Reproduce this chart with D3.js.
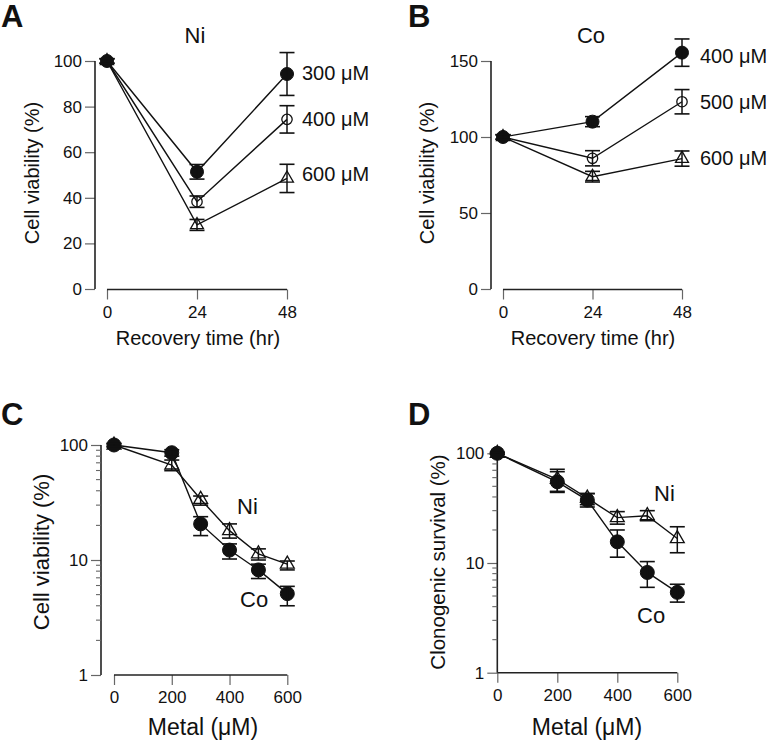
<!DOCTYPE html>
<html>
<head>
<meta charset="utf-8">
<script src="https://cdn.jsdelivr.net/npm/d3@7/dist/d3.min.js"></script>
<style>
  html, body { margin: 0; padding: 0; background: #fff; }
  svg { display: block; }
  text { font-family: "Liberation Sans", Arial, Helvetica, sans-serif; fill: #111; }
</style>
</head>
<body>
<svg id="chart" width="769" height="742"></svg>
<script>
// ---------------- DATA ----------------
// Panel A: Ni, recovery time
const timeHours = [0, 24, 48];
const timeTicks = [0, 24, 48];
const aYTicks = [0, 20, 40, 60, 80, 100];
const aNi300 = [100, 51.4, 94.3];
const aNi300Err = [1, 3.2, 9.4];
const aNi400 = [100, 38.3, 74.4];
const aNi400Err = [1, 2.5, 6.0];
const aNi600 = [100, 28.1, 48.5];
const aNi600Err = [1, 2.4, 6.2];
const aLabels = ["300 \u03bcM", "400 \u03bcM", "600 \u03bcM"];

// Panel B: Co, recovery time
const bYTicks = [0, 50, 100, 150];
const bCo400 = [100, 110.1, 155.5];
const bCo400Err = [1.5, 3.3, 9.0];
const bCo500 = [100, 86.0, 123.2];
const bCo500Err = [1.5, 5.0, 8.0];
const bCo600 = [100, 73.9, 85.8];
const bCo600Err = [1.5, 3.5, 5.0];
const bLabels = ["400 \u03bcM", "500 \u03bcM", "600 \u03bcM"];

// Panel C: cell viability vs metal dose
const doses = [0, 200, 300, 400, 500, 600];
const doseTicks = [0, 200, 400, 600];
const logTicks = [1, 10, 100];
const cCo = [100, 85.7, 20.6, 12.2, 8.2, 5.1];
const cCoLo = [97, 80, 16.3, 10.2, 6.9, 4.0];
const cCoHi = [103, 91, 23.8, 13.8, 9.2, 5.9];
const cNi = [100, 67, 33.7, 18.0, 11.3, 9.2];
const cNiLo = [96, 59.8, 30, 15.5, 10.0, 8.2];
const cNiHi = [103, 74, 36, 20.6, 12.5, 9.8];

// Panel D: clonogenic survival vs metal dose
const dCo = [100, 55, 37.5, 15.6, 8.2, 5.4];
const dCoLo = [98, 44, 32.4, 11.3, 6.0, 4.4];
const dCoHi = [102, 68, 42.9, 20, 10.3, 6.4];
const dNi = [100, 58, 39, 25.9, 27, 16.7];
const dNiLo = [98, 45, 34, 22.6, 24.3, 12.4];
const dNiHi = [102, 71.5, 43, 29.4, 30, 21.4];

// ---------------- DRAWING ----------------
const svg = d3.select("#chart");
const INK = "#111";

function marker(g, type, x, y, r) {
  if (type === "filled") {
    g.append("circle").attr("cx", x).attr("cy", y).attr("r", r)
      .attr("fill", INK).attr("stroke", INK).attr("stroke-width", 1);
  } else if (type === "open") {
    g.append("circle").attr("cx", x).attr("cy", y).attr("r", r - 0.8)
      .attr("fill", "none").attr("stroke", INK).attr("stroke-width", 1.3);
  } else {
    const sym = d3.symbol().type(d3.symbolTriangle).size(r * r * 1.7);
    g.append("path").attr("d", sym()).attr("transform", `translate(${x},${y})`)
      .attr("fill", "none").attr("stroke", INK).attr("stroke-width", 1.3);
  }
}

function errbar(g, x, y1, y2, cap) {
  g.append("line").attr("x1", x).attr("x2", x).attr("y1", y1).attr("y2", y2)
    .attr("stroke", INK).attr("stroke-width", 1.5);
  [y1, y2].forEach(yy => g.append("line").attr("x1", x - cap).attr("x2", x + cap)
    .attr("y1", yy).attr("y2", yy).attr("stroke", INK).attr("stroke-width", 1.6));
}

function drawSeries(g, xs, ys, lo, hi, x, y, type, r) {
  const line = d3.line().x((d, i) => x(xs[i])).y(d => y(d));
  g.append("path").datum(ys).attr("d", line).attr("fill", "none")
    .attr("stroke", INK).attr("stroke-width", 1.4);
  ys.forEach((v, i) => marker(g, type, x(xs[i]), y(v), r));
  ys.forEach((v, i) => errbar(g, x(xs[i]), y(hi[i]), y(lo[i]), 7.5));
}

function axes(g, x, y, opts) {
  // y axis
  const yAxis = (opts.log ? d3.axisLeft(y).tickValues(opts.yTicks).tickFormat(d3.format("d"))
                          : d3.axisLeft(y).tickValues(opts.yTicks))
      .tickSize(10).tickPadding(3);
  const ya = g.append("g").attr("transform", `translate(${opts.yAxisX},0)`).call(yAxis);
  ya.select(".domain").remove();
  ya.append("line").attr("x1", 0).attr("x2", 0).attr("y1", y.range()[1]).attr("y2", y.range()[0])
    .attr("stroke", "#222").attr("stroke-width", 1.6);
  ya.selectAll(".tick line").attr("stroke", "#666").attr("stroke-width", 1.2);
  ya.selectAll(".tick text").attr("font-size", 17).attr("fill", INK)
    .attr("font-family", "Liberation Sans, Arial, sans-serif");
  if (opts.log) {
    const minor = [];
    for (let dec = 1; dec < 100; dec *= 10) for (let k = 2; k <= 9; k++) minor.push(dec * k);
    ya.selectAll(".minor").data(minor).join("line").attr("class", "minor")
      .attr("x1", -5).attr("x2", 0).attr("y1", d => y(d)).attr("y2", d => y(d))
      .attr("stroke", "#666").attr("stroke-width", 1.1);
  }
  // x axis
  const xAxis = d3.axisBottom(x).tickValues(opts.xTicks).tickSize(10).tickPadding(6);
  const xa = g.append("g").attr("transform", `translate(0,${opts.xAxisY})`).call(xAxis);
  xa.select(".domain").remove();
  xa.append("line").attr("x1", x.range()[0]).attr("x2", x.range()[1]).attr("y1", 0).attr("y2", 0)
    .attr("stroke", "#222").attr("stroke-width", 1.6);
  xa.selectAll(".tick line").attr("stroke", "#666").attr("stroke-width", 1.2);
  xa.selectAll(".tick text").attr("font-size", 17).attr("fill", INK)
    .attr("font-family", "Liberation Sans, Arial, sans-serif");
}

function label(txt, x, y, size, opts = {}) {
  const t = svg.append("text").attr("x", x).attr("y", y).attr("font-size", size).text(txt);
  if (opts.anchor) t.attr("text-anchor", opts.anchor);
  if (opts.bold) t.attr("font-weight", "bold");
  return t;
}
function vlabel(txt, cx, cy, size) {
  svg.append("text").attr("transform", `translate(${cx},${cy}) rotate(-90)`)
    .attr("text-anchor", "middle").attr("dominant-baseline", "central")
    .attr("font-size", size).text(txt);
}

// ---- Panel A ----
{
  const g = svg.append("g");
  const x = d3.scaleLinear().domain([0, 48]).range([107, 287]);
  const y = d3.scaleLinear().domain([0, 100]).range([289, 61]);
  axes(g, x, y, { yTicks: aYTicks, xTicks: timeTicks, yAxisX: 95, xAxisY: 289.5 });
  drawSeries(g, timeHours, aNi600, aNi600.map((v, i) => v - aNi600Err[i]), aNi600.map((v, i) => v + aNi600Err[i]), x, y, "tri", 6.5);
  drawSeries(g, timeHours, aNi400, aNi400.map((v, i) => v - aNi400Err[i]), aNi400.map((v, i) => v + aNi400Err[i]), x, y, "open", 6);
  drawSeries(g, timeHours, aNi300, aNi300.map((v, i) => v - aNi300Err[i]), aNi300.map((v, i) => v + aNi300Err[i]), x, y, "filled", 6.5);
  label("A", 1, 27, 31, { bold: true });
  label("Ni", 195, 43, 22, { anchor: "middle" });
  label(aLabels[0], 302, 80, 20);
  label(aLabels[1], 302, 126, 20);
  label(aLabels[2], 302, 181, 20);
  vlabel("Cell viability (%)", 32, 173, 20);
  label("Recovery time (hr)", 198, 345, 20, { anchor: "middle" });
}

// ---- Panel B ----
{
  const g = svg.append("g");
  const x = d3.scaleLinear().domain([0, 48]).range([503, 682]);
  const y = d3.scaleLinear().domain([0, 150]).range([289, 61]);
  axes(g, x, y, { yTicks: bYTicks, xTicks: timeTicks, yAxisX: 491, xAxisY: 289.5 });
  drawSeries(g, timeHours, bCo600, bCo600.map((v, i) => v - bCo600Err[i]), bCo600.map((v, i) => v + bCo600Err[i]), x, y, "tri", 6.5);
  drawSeries(g, timeHours, bCo500, bCo500.map((v, i) => v - bCo500Err[i]), bCo500.map((v, i) => v + bCo500Err[i]), x, y, "open", 6);
  drawSeries(g, timeHours, bCo400, bCo400.map((v, i) => v - bCo400Err[i]), bCo400.map((v, i) => v + bCo400Err[i]), x, y, "filled", 6.5);
  label("B", 408, 27, 31, { bold: true });
  label("Co", 591, 43, 22, { anchor: "middle" });
  label(bLabels[0], 700, 63, 20);
  label(bLabels[1], 700, 109, 20);
  label(bLabels[2], 700, 165, 20);
  vlabel("Cell viability (%)", 427, 173, 20);
  label("Recovery time (hr)", 593, 345, 20, { anchor: "middle" });
}

// ---- Panel C ----
{
  const g = svg.append("g");
  const x = d3.scaleLinear().domain([0, 600]).range([114, 287.3]);
  const y = d3.scaleLog().domain([1, 100]).range([675, 445]);
  axes(g, x, y, { yTicks: logTicks, xTicks: doseTicks, yAxisX: 101, xAxisY: 675, log: true });
  drawSeries(g, doses, cNi, cNiLo, cNiHi, x, y, "tri", 7);
  drawSeries(g, doses, cCo, cCoLo, cCoHi, x, y, "filled", 7);
  label("C", 1, 425, 31, { bold: true });
  label("Ni", 237, 514, 22);
  label("Co", 240, 607, 22);
  vlabel("Cell viability (%)", 41, 552, 22);
  label("Metal (\u03bcM)", 203, 735, 23, { anchor: "middle" });
}

// ---- Panel D ----
{
  const g = svg.append("g");
  const x = d3.scaleLinear().domain([0, 600]).range([497.3, 677.3]);
  const y = d3.scaleLog().domain([1, 100]).range([672.7, 453.3]);
  axes(g, x, y, { yTicks: logTicks, xTicks: doseTicks, yAxisX: 497.3, xAxisY: 672.7, log: true });
  drawSeries(g, doses, dNi, dNiLo, dNiHi, x, y, "tri", 7);
  drawSeries(g, doses, dCo, dCoLo, dCoHi, x, y, "filled", 7);
  label("D", 408, 425, 31, { bold: true });
  label("Ni", 654, 501, 22);
  label("Co", 637, 623, 22);
  vlabel("Clonogenic survival (%)", 437, 562, 20.5);
  label("Metal (\u03bcM)", 587, 735, 23, { anchor: "middle" });
}
</script>
</body>
</html>
